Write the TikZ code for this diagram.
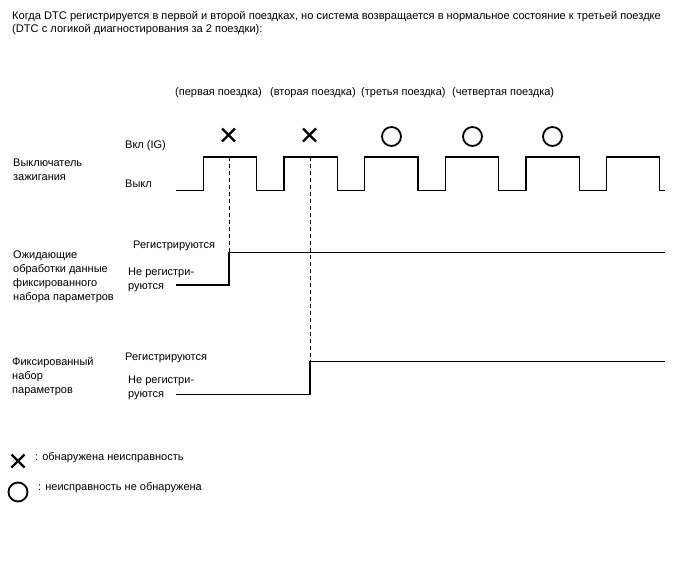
\documentclass[tikz,border=0pt]{standalone}
\usepackage{fontspec}
\setmainfont{Liberation Sans}
\begin{document}
\begin{tikzpicture}[x=1pt,y=-1pt,
  lbl/.style={anchor=west,inner sep=0pt,align=left,font=\fontsize{11}{14}\selectfont},
  ttl/.style={anchor=west,inner sep=0pt,align=left,font=\fontsize{11.1}{13}\selectfont},
  wave/.style={line width=1.3pt,line join=miter},
  guide/.style={line width=0.9pt,dash pattern=on 4pt off 3pt},
  crossmark/.style={line width=2.4pt},
  circmark/.style={line width=1.8pt}]
\useasboundingbox (0,0) rectangle (688,560);

% title
\node[ttl] (title) at (12,23.5) {Когда DTC регистрируется в первой и второй поездках, но система возвращается в нормальное состояние к третьей поездке\\(DTC с логикой диагностирования за 2 поездки):};

% trips
\node[lbl] (t1) at (175,93) {(первая поездка)};
\node[lbl] (t2) at (270,93) {(вторая поездка)};
\node[lbl] (t3) at (361,93) {(третья поездка)};
\node[lbl] (t4) at (452,93) {(четвертая поездка)};

% left labels
\node[lbl] (ign) at (13,170) {Выключатель\\зажигания};
\node[lbl] (on) at (125,146) {Вкл (IG)};
\node[lbl] (off) at (125,184) {Выкл};

\node[lbl] (pend) at (13,277) {Ожидающие\\обработки данные\\фиксированного\\набора параметров};
\node[lbl] (preg) at (133,246) {Регистрируются};
\node[lbl] (pnreg) at (128,279.5) {Не регистри-\\руются};

\node[lbl] (frz) at (12,377) {Фиксированный\\набор\\параметров};
\node[lbl] (freg) at (125,358) {Регистрируются};
\node[lbl] (fnreg) at (128,388) {Не регистри-\\руются};

% ignition waveform
\draw[wave] (176,190.5)
  \foreach \i in {0,...,5} {
    -- ({203.5+80.6*\i},190.5) -- ({203.5+80.6*\i},157)
    -- ({256.8+80.6*\i},157) -- ({256.8+80.6*\i},190.5)
  } -- (665,190.5);

% marks
\foreach \cx in {228.5,309.5} {
  \draw[crossmark] (\cx-6.5,128.5) -- (\cx+6.5,141.5);
  \draw[crossmark] (\cx-6.5,141.5) -- (\cx+6.5,128.5);
}
\foreach \cx in {391.5,472.5,552.5} {
  \draw[circmark] (\cx,136.5) circle (9.5);
}

% dashed guides
\coordinate (d1t) at (229,157);
\coordinate (d1b) at (229,252.5);
\coordinate (d2t) at (310,157);
\coordinate (d2b) at (310,361.5);
\draw[guide] (d1t) -- (d1b);
\draw[guide] (d2t) -- (d2b);

% pending data waveform
\draw[wave] (176,285) -- (229,285) -- (d1b) -- (665,252.5);

% freeze frame waveform
\draw[wave] (176,394.5) -- (310,394.5) -- (d2b) -- (665,361.5);

% legend
\draw[crossmark] (11.5,454.5) -- (24.5,467.5);
\draw[crossmark] (11.5,467.5) -- (24.5,454.5);
\node[lbl] (lx) at (35,458) {: обнаружена неисправность};
\draw[circmark] (18,492) circle (9.5);
\node[lbl] (lo) at (38,488) {: неисправность не обнаружена};
\end{tikzpicture}
\end{document}
